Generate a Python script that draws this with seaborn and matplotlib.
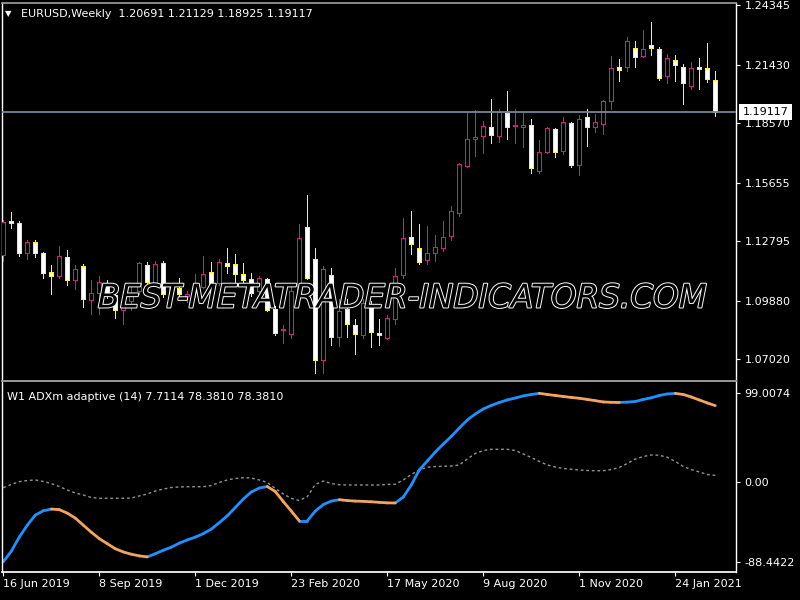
import numpy as np
import pandas as pd
import matplotlib
matplotlib.use("Agg")
import matplotlib.pyplot as plt
import matplotlib.patheffects as pe
import matplotlib.transforms as mtransforms
import seaborn as sns

# ── EURUSD weekly candles, 16 Jun 2019 → end Feb 2021 ──
opens = [1.1210, 1.1379, 1.1367, 1.1224, 1.1274, 1.1220, 1.1131, 1.1107, 1.1200, 1.1092,
         1.1156, 1.0993, 1.1028, 1.1077, 1.1018, 1.0944, 1.0989, 1.1038, 1.1165, 1.1077,
         1.1175, 1.1023, 1.1052, 1.1013, 1.1028, 1.1057, 1.1131, 1.1077, 1.1175, 1.1170,
         1.1121, 1.1097, 1.1038, 1.1097, 1.0949, 1.0846, 1.0827, 1.1043, 1.1347, 1.1195,
         1.0699, 1.1116, 1.0812, 1.0949, 1.0871, 1.0822, 1.0969, 1.0831, 1.0807, 1.0900,
         1.1116, 1.1298, 1.1244, 1.1190, 1.1224, 1.1244, 1.1303, 1.1416, 1.1647, 1.1780,
         1.1794, 1.1839, 1.1794, 1.1907, 1.1845, 1.1840, 1.1848, 1.1622, 1.1716, 1.1829,
         1.1721, 1.1858, 1.1652, 1.1888, 1.1839, 1.1853, 1.1966, 1.2133, 1.2133, 1.2227,
         1.2187, 1.2238, 1.2222, 1.2089, 1.2168, 1.2133, 1.2040, 1.2133, 1.2128, 1.20691]
highs = [1.1382, 1.1421, 1.1377, 1.1288, 1.1288, 1.1229, 1.1165, 1.1254, 1.1239, 1.1161,
         1.1170, 1.1092, 1.1111, 1.1092, 1.1038, 1.1003, 1.1062, 1.1180, 1.1180, 1.1185,
         1.1185, 1.1062, 1.1102, 1.1038, 1.1121, 1.1205, 1.1180, 1.1195, 1.1244, 1.1215,
         1.1175, 1.1126, 1.1107, 1.1102, 1.0964, 1.0871, 1.1062, 1.1362, 1.1505, 1.1244,
         1.1156, 1.1151, 1.0998, 1.0998, 1.0900, 1.0998, 1.0989, 1.0900, 1.0920, 1.1151,
         1.1392, 1.1426, 1.1362, 1.1352, 1.1308, 1.1377, 1.1450, 1.1662, 1.1912, 1.1922,
         1.1868, 1.1976, 1.1927, 1.2015, 1.1927, 1.1907, 1.1878, 1.1775, 1.1839, 1.1834,
         1.1888, 1.1863, 1.1898, 1.1927, 1.1902, 1.1971, 1.2187, 1.2173, 1.2281, 1.2261,
         1.2315, 1.2354, 1.2232, 1.2197, 1.2192, 1.2148, 1.2158, 1.2178, 1.2251, 1.21129]
lows = [1.1185, 1.1342, 1.1205, 1.1195, 1.1200, 1.1102, 1.1023, 1.1102, 1.1067, 1.1048,
        1.0959, 1.0925, 1.0925, 1.1003, 1.0905, 1.0876, 1.0944, 1.1023, 1.1067, 1.1067,
        1.1008, 1.1013, 1.1008, 1.0984, 1.1008, 1.1052, 1.1067, 1.1067, 1.1126, 1.1082,
        1.1082, 1.1013, 1.1023, 1.0940, 1.0822, 1.0782, 1.0807, 1.1038, 1.1097, 1.0635,
        1.0635, 1.0772, 1.0768, 1.0812, 1.0728, 1.0807, 1.0763, 1.0772, 1.0802, 1.0876,
        1.1102, 1.1215, 1.1170, 1.1170, 1.1185, 1.1234, 1.1288, 1.1401, 1.1642, 1.1696,
        1.1711, 1.1760, 1.1765, 1.1780, 1.1760, 1.1740, 1.1613, 1.1613, 1.1711, 1.1691,
        1.1706, 1.1642, 1.1603, 1.1745, 1.1814, 1.1804, 1.1927, 1.2065, 1.2114, 1.2133,
        1.2182, 1.2192, 1.2070, 1.2055, 1.2065, 1.1952, 1.2025, 1.2025, 1.2060, 1.18925]
closes = [1.1372, 1.1367, 1.1224, 1.1274, 1.1220, 1.1126, 1.1107, 1.1205, 1.1092, 1.1146,
          1.0998, 1.1028, 1.1082, 1.1018, 1.0944, 1.0979, 1.1028, 1.1175, 1.1082, 1.1170,
          1.1023, 1.1057, 1.1023, 1.1023, 1.1067, 1.1121, 1.1072, 1.1180, 1.1156, 1.1121,
          1.1092, 1.1028, 1.1102, 1.0944, 1.0831, 1.0851, 1.1038, 1.1293, 1.1102, 1.0699,
          1.1146, 1.0812, 1.0940, 1.0876, 1.0827, 1.0979, 1.0836, 1.0819, 1.0905, 1.1111,
          1.1293, 1.1264, 1.1180, 1.1224, 1.1249, 1.1298, 1.1426, 1.1657, 1.1780, 1.1789,
          1.1844, 1.1799, 1.1912, 1.1839, 1.1848, 1.1848, 1.1637, 1.1716, 1.1834, 1.1716,
          1.1863, 1.1652, 1.1878, 1.1839, 1.1863, 1.1966, 1.2128, 1.2119, 1.2261, 1.2182,
          1.2222, 1.2225, 1.2079, 1.2178, 1.2143, 1.2055, 1.2128, 1.2124, 1.2074, 1.19117]

# ── ADXm adaptive (14): main line + dotted signal line ──
adx_main = [-88.4, -76.7, -61.0, -47.7, -36.5, -31.7, -29.8, -30.4, -34.3, -39.8,
            -47.7, -55.5, -62.7, -68.3, -73.9, -77.5, -80.0, -81.9, -83.0, -79.5,
            -75.6, -72.2, -67.7, -64.1, -61.0, -57.1, -52.1, -44.9, -37.3, -28.1,
            -18.6, -10.8, -6.4, -4.7, -10.3, -21.4, -32.0, -42.9, -42.9, -32.0,
            -24.8, -20.9, -19.4, -20.3, -20.9, -21.2, -21.7, -22.3, -22.9, -23.0,
            -16.4, -3.0, 13.7, 23.7, 33.7, 42.6, 51.0, 60.4, 69.3, 76.0,
            81.6, 85.5, 88.8, 91.6, 93.8, 96.1, 97.7, 99.0, 97.7, 96.6,
            95.5, 94.4, 93.5, 92.2, 90.8, 89.4, 89.0, 88.8, 89.2, 89.9,
            92.2, 94.0, 96.6, 98.3, 98.9, 97.7, 94.9, 91.6, 88.3, 85.3]
adx_signal = [-6.0, -2.4, 0.7, 2.0, 2.6, 0.9, -1.3, -4.7, -8.6, -11.9,
              -14.1, -16.9, -17.8, -17.8, -17.8, -17.8, -17.5, -15.2, -13.0, -9.7,
              -7.5, -5.8, -5.2, -4.9, -4.9, -4.9, -3.6, -0.2, 2.6, 4.2,
              5.1, 4.8, 2.6, -0.2, -6.9, -13.0, -17.8, -20.3, -16.0, -2.4,
              1.4, -1.3, -2.7, -3.0, -3.0, -3.0, -3.0, -3.0, -2.4, -2.2,
              2.6, 8.7, 13.7, 16.7, 17.6, 17.8, 18.1, 19.3, 25.9, 32.1,
              35.4, 36.7, 36.7, 36.7, 35.4, 31.5, 27.6, 23.2, 19.3, 17.0,
              15.4, 14.5, 13.7, 13.1, 12.9, 12.9, 14.2, 16.5, 20.9, 25.9,
              28.7, 30.4, 30.1, 27.8, 23.2, 17.6, 14.2, 11.5, 8.7, 7.71]

date_labels = ["16 Jun 2019", "8 Sep 2019", "1 Dec 2019", "23 Feb 2020",
               "17 May 2020", "9 Aug 2020", "1 Nov 2020", "24 Jan 2021"]
date_step = 12
price_ticks = [1.24345, 1.21430, 1.18570, 1.15655, 1.12795, 1.09880, 1.07020]
adx_ticks = [99.0074, 0.0, -88.4422]
adx_tick_labels = ["99.0074", "0.00", "-88.4422"]
last_price = 1.19117
chart_title = "EURUSD,Weekly  1.20691 1.21129 1.18925 1.19117"
ind_title = "W1 ADXm adaptive (14) 7.7114 78.3810 78.3810"

BULL = "#D01A8E"
BEAR = "#FFFF00"
UP_CLR = "#1E90FF"
DN_CLR = "#F4A460"

sns.set_theme(style="dark", rc={
    "figure.facecolor": "black", "axes.facecolor": "black",
    "axes.edgecolor": "white", "text.color": "white",
    "xtick.color": "white", "ytick.color": "white", "axes.grid": False,
})
plt.rcParams["font.family"] = ["DejaVu Sans"]

fig = plt.figure(figsize=(8, 6), dpi=100)
ax1 = fig.add_axes([2 / 800, 1 - 380 / 600, 734 / 800, 377.5 / 600])
ax2 = fig.add_axes([2 / 800, 1 - 572 / 600, 734 / 800, 191 / 600])

bars = np.arange(len(opens))
o, h, l, c = map(np.asarray, (opens, highs, lows, closes))
up = c >= o
edge = np.where(up, BULL, BEAR)
fill = np.where(up, "black", "white")

# ── candles (crisp 1px lines like the terminal) ──
ax1.vlines(bars, l, h, colors=edge, lw=0.5, zorder=2, antialiased=False)
ax1.bar(bars, np.abs(c - o), bottom=np.minimum(o, c), width=0.5,
        color=fill, edgecolor=edge, linewidth=0.5, zorder=3, antialiased=False)
ax1.axhline(last_price, color="#778899", lw=1.3, zorder=5)

xlim = (-0.16, 91.59)
ax1.set_xlim(xlim)
ax1.set_ylim(1.06005, 1.24478)
ax1.set_xticks([])
ax1.yaxis.tick_right()
ax1.set_yticks(price_ticks, [f"{p:.5f}" for p in price_ticks])
ax1.tick_params(axis="y", right=True, length=3, width=0.8, pad=3,
                labelsize=8, colors="white")

# current price tag
tr = mtransforms.blended_transform_factory(ax1.transAxes, ax1.transData)
ax1.text(1.009, last_price, f"{last_price:.5f}", transform=tr, color="black",
         fontsize=8, ha="left", va="center", zorder=10, clip_on=False,
         bbox=dict(boxstyle="square,pad=0.3", fc="white", ec="none"))

# ── indicator: colour by slope, one unit per segment ──
rows = []
for i in range(len(adx_main) - 1):
    d = "down" if adx_main[i + 1] < adx_main[i] else "up"
    rows.append((i, i, adx_main[i], d))
    rows.append((i, i + 1, adx_main[i + 1], d))
seg = pd.DataFrame(rows, columns=["seg", "bar", "value", "dir"])

sns.lineplot(x=bars, y=adx_signal, color="#8f9499", lw=1,
             linestyle=(0, (2, 2)), ax=ax2)
sns.lineplot(data=seg, x="bar", y="value", hue="dir", units="seg",
             estimator=None, sort=False, palette={"up": UP_CLR, "down": DN_CLR},
             lw=2, legend=False, ax=ax2)

ax2.set_xlim(xlim)
ax2.set_ylim(-99.8, 112.7)
ax2.set_xlabel("")
ax2.set_ylabel("")
ax2.yaxis.tick_right()
ax2.set_yticks(adx_ticks, adx_tick_labels)
ax2.set_xticks(np.arange(len(date_labels)) * date_step, date_labels)
plt.setp(ax2.get_xticklabels(), ha="left")
ax2.tick_params(axis="y", right=True, length=3, width=0.8, pad=3,
                labelsize=8, colors="white")
ax2.tick_params(axis="x", bottom=True, length=3, width=0.8, pad=2,
                labelsize=8, colors="white")

for ax in (ax1, ax2):
    for side in ("left", "right"):
        ax.spines[side].set_color("white")
        ax.spines[side].set_linewidth(1)
ax1.spines["top"].set_color("#9a9a9a")
ax1.spines["bottom"].set_visible(False)
ax2.spines["top"].set_color("#9a9a9a")
ax2.spines["top"].set_linewidth(1.4)
ax2.spines["bottom"].set_color("white")

# ── texts ──
fig.text(8 / 800, 1 - 14 / 600, "\u25bc", fontsize=6, ha="center", va="center")
fig.text(21 / 800, 1 - 14 / 600, chart_title, fontsize=8, va="center")
fig.text(7 / 800, 1 - 397 / 600, ind_title, fontsize=8, va="center")
fig.text(402 / 800, 1 - 298 / 600, "BEST-METATRADER-INDICATORS.COM",
         fontsize=23.5, style="italic", weight="normal", color="black",
         ha="center", va="center",
         path_effects=[pe.withStroke(linewidth=1.4, foreground="white")])

fig.savefig("out.png", dpi=100, facecolor="black")
